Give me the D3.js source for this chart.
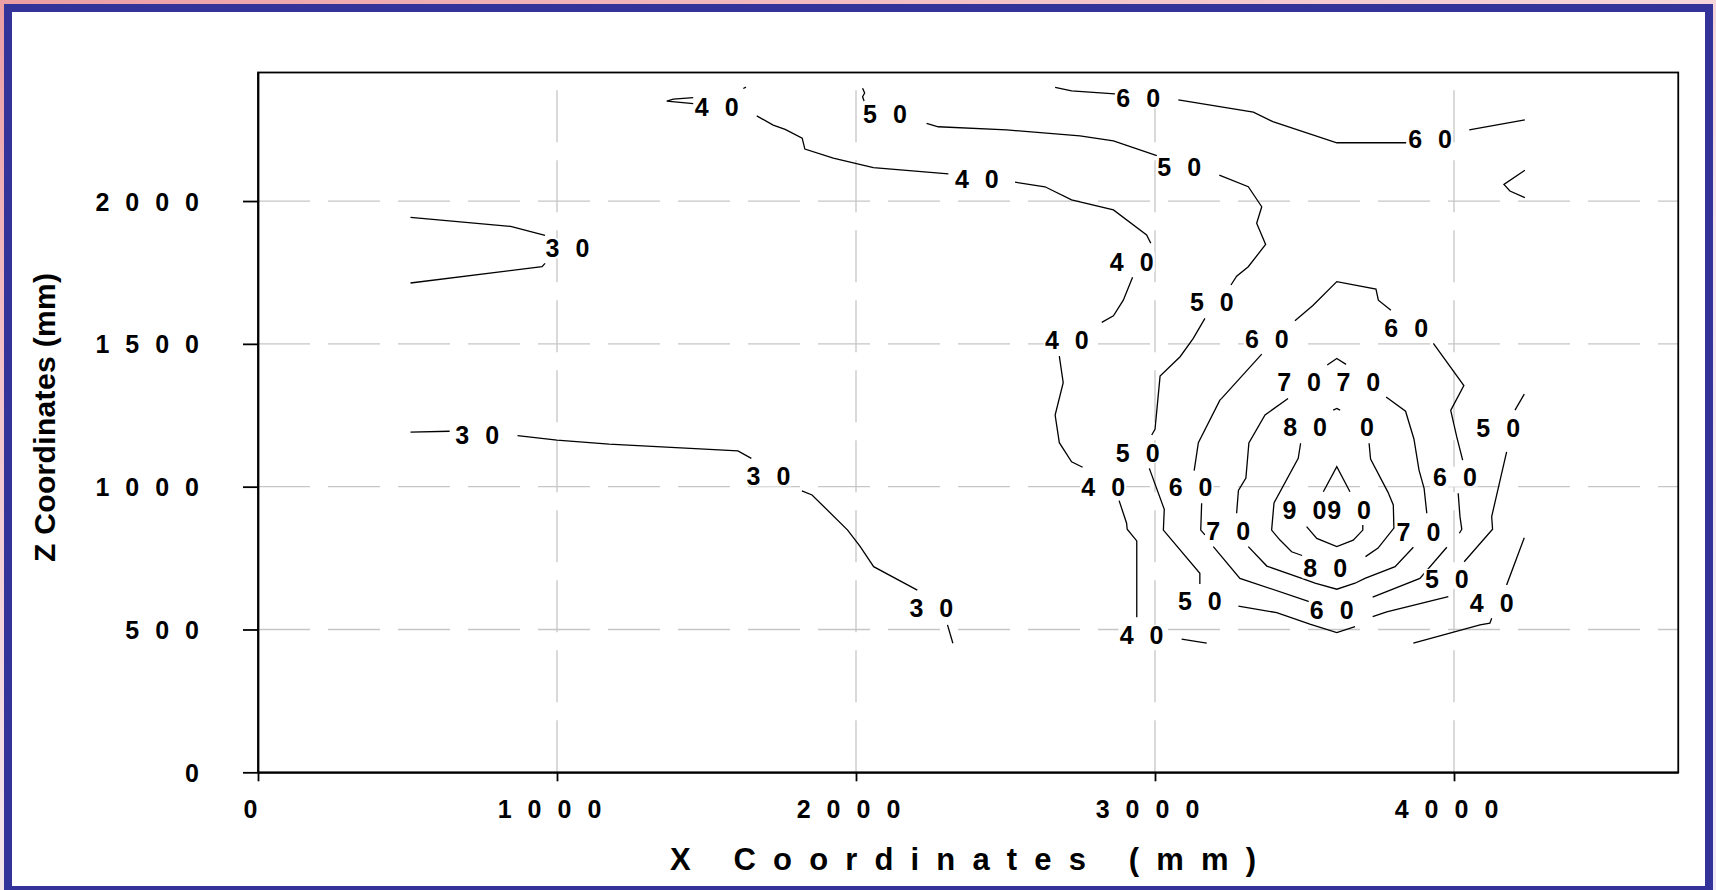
<!DOCTYPE html>
<html><head><meta charset="utf-8">
<script src="https://cdn.jsdelivr.net/npm/d3@7"></script>
<style>
html,body{margin:0;padding:0;}
body{width:1716px;height:890px;overflow:hidden;background:linear-gradient(160deg,#eb9ea4 0%,#f3c4c9 25%,#f4e4ea 55%,#eeeaf4 100%);}
svg{display:block}
</style></head><body>
<svg id="chart" width="1716" height="890"></svg>
<script>
// ---------- data (mm) ----------
const xTicks = [0, 1000, 2000, 3000, 4000];
const zTicks = [0, 500, 1000, 1500, 2000];
const xDomain = [0, 4750];
const zDomain = [0, 2450];

const contour30 = [
  [[510,1943],[845,1911],[960,1880]],
  [[960,1782],[950,1770],[510,1713]],
  [[510,1191],[641,1194]],
  [[868,1179],[1000,1163],[1174,1149],[1605,1125],[1650,1099]],
  [[1819,985],[1853,971],[1972,848],[2013,792],[2059,720],[2205,638]],
  [[2306,516],[2324,452]]
];
const contour40 = [
  [[1456,2362],[1389,2357],[1367,2350],[1456,2341]],
  [[1623,2394],[1632,2399]],
  [[1668,2298],[1723,2266],[1763,2251],[1820,2220],[1829,2182],[1924,2150],[2058,2117],[2309,2095]],
  [[2532,2066],[2632,2050],[2721,2004],[2861,1969],[2972,1881],[2986,1852]],
  [[2925,1733],[2894,1653],[2861,1598],[2822,1575]],
  [[2680,1457],[2693,1364],[2666,1251],[2680,1154],[2721,1087],[2758,1068]],
  [[2880,951],[2905,872],[2907,851],[2939,810],[2939,543]],
  [[3089,466],[3173,452]],
  [[3864,452],[4087,516],[4120,522],[4126,539]],
  [[4176,656],[4235,821]]
];
const contour50 = [
  [[2022,2395],[2029,2378],[2022,2365],[2027,2350]],
  [[2236,2272],[2275,2260],[2504,2249],[2749,2228],[2861,2211],[3006,2159]],
  [[3215,2091],[3312,2050],[3357,1980],[3340,1922],[3370,1848],[3312,1770],[3273,1737],[3254,1706]],
  [[3167,1589],[3128,1519],[3084,1455],[3017,1387],[3000,1201],[2989,1181]],
  [[2981,1064],[3031,921],[3028,848],[3150,697],[3150,659]],
  [[3279,582],[3407,559],[3518,519],[3608,489],[3669,510]],
  [[3728,545],[3775,562],[3981,615]],
  [[4034,737],[4129,851],[4126,895],[4176,1122]],
  [[4204,1268],[4235,1324]]
];
const contour60 = [
  [[2666,2398],[2721,2386],[2866,2375]],
  [[3078,2354],[3329,2311],[3394,2278],[3608,2204],[3840,2204]],
  [[4051,2249],[4237,2284]],
  [[4237,2108],[4167,2058],[4187,2035],[4237,2012]],
  [[3468,1581],[3528,1634],[3608,1718],[3739,1692],[3747,1653],[3789,1618]],
  [[3931,1502],[4033,1354],[3989,1267],[4009,1175],[4029,1093]],
  [[4014,977],[4020,895],[4026,851],[4018,837]],
  [[3976,788],[3886,679],[3728,613]],
  [[3518,597],[3284,679],[3195,790]],
  [[3167,831],[3153,848],[3156,942]],
  [[3131,1056],[3145,1154],[3217,1303],[3223,1309],[3357,1464]]
];
const contour70 = [
  [[3576,1426],[3608,1449],[3639,1428]],
  [[3445,1309],[3368,1251],[3314,1153],[3304,1030],[3279,987],[3273,907]],
  [[3312,790],[3374,722],[3491,679],[3535,662],[3608,641],[3669,662],[3702,679],[3803,720],[3864,788]],
  [[3909,907],[3900,994],[3883,1058],[3866,1167],[3838,1264],[3773,1314]]
];
const contour80 = [
  [[3596,1268],[3608,1274],[3619,1268]],
  [[3487,1152],[3479,1099],[3398,943],[3390,848],[3418,813],[3457,772],[3492,759]],
  [[3716,1152],[3721,1097],[3779,981],[3797,936],[3799,855],[3746,785],[3704,755]]
];
const contour90 = [
  [[3563,982],[3608,1070],[3652,982]],
  [[3507,860],[3541,819],[3608,790],[3663,813],[3695,848],[3695,866]]
];
// contour labels: [x, z, text]
const labels = [
  [1035,1834,"30"],[733,1181,"30"],[1707,1036,"30"],[2252,575,"30"],
  [1534,2330,"40"],[2404,2077,"40"],[2922,1785,"40"],[2705,1513,"40"],[2827,1000,"40"],[2955,481,"40"],[4126,592,"40"],
  [2097,2304,"50"],[3081,2120,"50"],[3190,1646,"50"],[2942,1119,"50"],[3150,600,"50"],[3976,677,"50"],[4148,1204,"50"],
  [2944,2360,"60"],[3920,2217,"60"],[3374,1516,"60"],[3840,1554,"60"],[3119,998,"60"],[4003,1035,"60"],[3591,568,"60"],
  [3482,1367,"70"],[3680,1367,"70"],[3245,845,"70"],[3881,842,"70"],
  [3502,1208,"80"],[3709,1208,"0"],[3569,714,"80"],
  [3500,918,"90"],[3649,918,"90"]
];
const xTitle = "X Coordinates (mm)";
const zTitle = "Z Coordinates (mm)";

// ---------- drawing ----------
const FONT = "'Liberation Sans', Arial, sans-serif";
const svg = d3.select("#chart");

// outer frame
svg.append("rect").attr("x",8).attr("y",8).attr("width",1701).attr("height",882)
  .attr("fill","#ffffff").attr("stroke","#333399").attr("stroke-width",8);

const x = d3.scaleLinear().domain(xDomain).range([258, 1678.25]);
const y = d3.scaleLinear().domain(zDomain).range([772.3, 72.5]);

// gridlines
const grid = svg.append("g").attr("stroke","#c6c6c6").attr("stroke-width",1.3)
  .attr("stroke-dasharray","52,18").attr("fill","none");
grid.selectAll("line.h").data(zTicks.filter(d=>d>0)).join("line")
  .attr("x1",x(xDomain[0])).attr("x2",x(xDomain[1]))
  .attr("y1",d=>y(d)).attr("y2",d=>y(d));
grid.selectAll("line.v").data(xTicks.filter(d=>d>0)).join("line")
  .attr("x1",d=>x(d)).attr("x2",d=>x(d))
  .attr("y1",y(zDomain[0])).attr("y2",y(zDomain[1]));

// contour lines
const line = d3.line().x(d=>x(d[0])).y(d=>y(d[1]));
const allContours = [contour30, contour40, contour50, contour60, contour70, contour80, contour90];
const cg = svg.append("g").attr("fill","none").attr("stroke","#000").attr("stroke-width",1.3)
  .attr("stroke-linejoin","miter");
allContours.forEach(level=>{
  cg.selectAll(null).data(level).join("path").attr("d",line);
});

// contour labels (digits spaced with dx, no trailing gap)
const LFS = 25, LSP = 16;
const lg = svg.append("g");
lg.selectAll("rect").data(labels).join("rect")
  .attr("x",d=>x(d[0]) - (d[2].length===1 ? 9 : 23))
  .attr("y",d=>y(d[1]) - 10)
  .attr("width",d=>d[2].length===1 ? 18 : 46)
  .attr("height",20)
  .attr("fill","#fff");
lg.selectAll("text").data(labels).join("text")
  .attr("x",d=>x(d[0]))
  .attr("y",d=>y(d[1]))
  .attr("dy","0.36em")
  .attr("dx",d=>d[2].split("").map((c,i)=>i?LSP:0).join(" "))
  .attr("text-anchor","middle")
  .style("font-family",FONT).style("font-weight","bold").style("font-size",LFS+"px")
  .text(d=>d[2]);

// axes
const axB = svg.append("g").attr("transform",`translate(0,${y(0)})`)
  .call(d3.axisBottom(x).tickValues(xTicks).tickSize(9).tickSizeOuter(0).tickFormat(d3.format("d")));
const axL = svg.append("g").attr("transform",`translate(${x(0)},0)`)
  .call(d3.axisLeft(y).tickValues(zTicks).tickSize(15).tickSizeOuter(0).tickFormat(d3.format("d")));
[axB, axL].forEach(a=>{
  a.select(".domain").attr("stroke","#000").attr("stroke-width",1.8);
  a.selectAll(".tick line").attr("stroke","#000").attr("stroke-width",1.8);
  a.selectAll(".tick text").attr("fill","#000")
    .style("font-family",FONT).style("font-weight","bold").style("font-size","25px")
    .style("letter-spacing","16px");
});
axB.selectAll(".tick text").attr("y",46).attr("dy","0").attr("x",0);
axL.selectAll(".tick text").attr("x",-(258-199-16)).attr("dy","0.36em");

// plot frame
svg.append("rect").attr("x",x(xDomain[0])).attr("y",y(zDomain[1]))
  .attr("width",x(xDomain[1])-x(xDomain[0])).attr("height",y(zDomain[0])-y(zDomain[1]))
  .attr("fill","none").attr("stroke","#000").attr("stroke-width",1.8);

// titles
svg.append("text").attr("x",670).attr("y",870)
  .attr("textLength",586).attr("lengthAdjust","spacing")
  .style("font-family",FONT).style("font-weight","bold").style("font-size","31px")
  .text(xTitle);
svg.append("text").attr("transform","translate(55,562) rotate(-90)")
  .attr("textLength",289).attr("lengthAdjust","spacing")
  .style("font-family",FONT).style("font-weight","bold").style("font-size","30px")
  .text(zTitle);
</script>
</body></html>
